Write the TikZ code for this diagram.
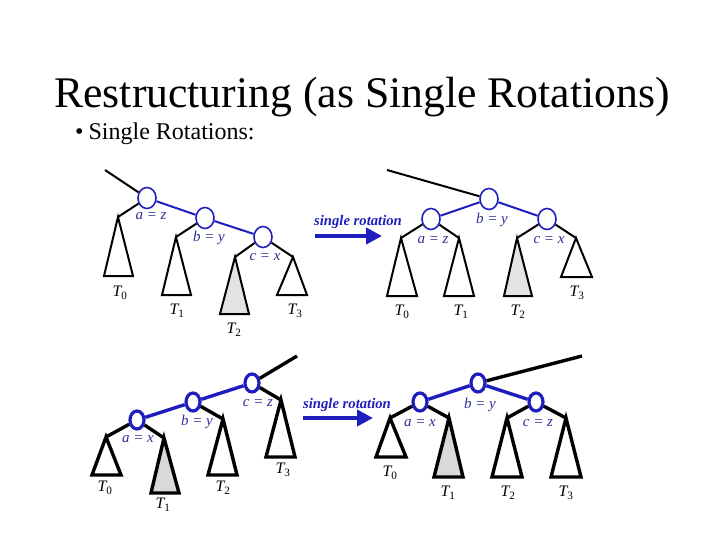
\documentclass[tikz,border=0pt]{standalone}
\usepackage{fontspec}
\setmainfont{Liberation Serif}
\usepackage{tikz}
\usepackage{xcolor}
\usetikzlibrary{shapes.geometric, arrows.meta, positioning}
\definecolor{keyblue}{RGB}{30,30,190}
\definecolor{labblue}{RGB}{45,45,150}
\tikzstyle{topkey}  = [ellipse, draw=keyblue, fill=white, line width=1.6pt, minimum width=18pt, minimum height=21pt, inner sep=0pt]
\tikzstyle{botkey}  = [ellipse, draw=keyblue, fill=white, line width=3.2pt, minimum width=14pt, minimum height=18pt, inner sep=0pt]
\tikzstyle{topedge} = [line width=2pt]
\tikzstyle{botedge} = [line width=3.4pt]
\tikzstyle{toptree} = [draw, line width=2pt, fill=white]
\tikzstyle{bottree} = [draw, line width=3.4pt, fill=white]
\tikzstyle{keylabel}= [text=labblue, font=\fontsize{15}{15}\selectfont\itshape, inner sep=0pt]
\tikzstyle{treelabel}= [font=\fontsize{16}{16}\selectfont\itshape, inner sep=0pt]
\tikzstyle{rotlabel}= [text=keyblue, font=\fontsize{14.7}{15}\selectfont\bfseries\itshape, inner sep=0pt]
\tikzstyle{rotarrow}= [draw=keyblue, line width=4.5pt, -{Triangle[length=16pt,width=16pt]}]

\begin{document}
\begin{tikzpicture}[x=1pt, y=-1pt]
\useasboundingbox (0,0) rectangle (720,540);

\node (title) [anchor=base, font=\fontsize{43.7}{44}\selectfont] at (362,108) {Restructuring (as Single Rotations)};
\node (bullet) [anchor=base west, font=\fontsize{24}{24}\selectfont, inner sep=0pt] at (75,140) {\textbullet\hspace{5pt}Single Rotations:};

% top left: before rotation
\coordinate (p1) at (105,170);
\coordinate (t10) at (118,217);
\coordinate (t11) at (176,237);
\coordinate (t12) at (235,257);
\coordinate (t13) at (293,257);
\draw [toptree] (t10) -- ++(-14,59) -- ++(29,0) -- cycle;
\draw [toptree] (t11) -- ++(-14,58) -- ++(29,0) -- cycle;
\draw [toptree, fill=gray!22] (t12) -- ++(-15,57) -- ++(29,0) -- cycle;
\draw [toptree] (t13) -- ++(-16,38) -- ++(30,0) -- cycle;
\node (a1) [topkey] at (147,198) {};
\node (b1) [topkey] at (205,218) {};
\node (c1) [topkey] at (263,237) {};
\draw [topedge] (p1) -- (a1);
\draw [topedge, draw=keyblue] (a1) -- (b1);
\draw [topedge, draw=keyblue] (b1) -- (c1);
\draw [topedge] (a1) -- (t10);
\draw [topedge] (b1) -- (t11);
\draw [topedge] (c1) -- (t12);
\draw [topedge] (c1) -- (t13);
\node (la1) [keylabel] at (151,216) {a = z};
\node (lb1) [keylabel] at (209,238) {b = y};
\node (lc1) [keylabel] at (265,257) {c = x};
\node (l10) [treelabel] at (120,293) {T\textsubscript{\upshape 0}};
\node (l11) [treelabel] at (177,311) {T\textsubscript{\upshape 1}};
\node (l12) [treelabel] at (234,330) {T\textsubscript{\upshape 2}};
\node (l13) [treelabel] at (295,311) {T\textsubscript{\upshape 3}};

\node (rot1) [rotlabel] at (358,222) {single rotation};
\coordinate (r1s) at (315,236);
\coordinate (r1e) at (382,236);
\draw [rotarrow] (r1s) -- (r1e);

% top right: after rotation
\coordinate (p2) at (387,170);
\coordinate (t20) at (401,238);
\coordinate (t21) at (459,238);
\coordinate (t22) at (517,238);
\coordinate (t23) at (576,238);
\draw [toptree] (t20) -- ++(-14,58) -- ++(30,0) -- cycle;
\draw [toptree] (t21) -- ++(-15,58) -- ++(30,0) -- cycle;
\draw [toptree, fill=gray!22] (t22) -- ++(-13,58) -- ++(28,0) -- cycle;
\draw [toptree] (t23) -- ++(-15,39) -- ++(31,0) -- cycle;
\node (b2) [topkey] at (489,199) {};
\node (a2) [topkey] at (431,219) {};
\node (c2) [topkey] at (547,219) {};
\draw [topedge] (p2) -- (b2);
\draw [topedge, draw=keyblue] (b2) -- (a2);
\draw [topedge, draw=keyblue] (b2) -- (c2);
\draw [topedge] (a2) -- (t20);
\draw [topedge] (a2) -- (t21);
\draw [topedge] (c2) -- (t22);
\draw [topedge] (c2) -- (t23);
\node (lb2) [keylabel] at (492,220) {b = y};
\node (la2) [keylabel] at (433,240) {a = z};
\node (lc2) [keylabel] at (549,240) {c = x};
\node (l20) [treelabel] at (402,312) {T\textsubscript{\upshape 0}};
\node (l21) [treelabel] at (461,312) {T\textsubscript{\upshape 1}};
\node (l22) [treelabel] at (518,312) {T\textsubscript{\upshape 2}};
\node (l23) [treelabel] at (577,293) {T\textsubscript{\upshape 3}};

% bottom left: before rotation
\coordinate (p3) at (297,356);
\coordinate (t30) at (106,437);
\coordinate (t31) at (164,438);
\coordinate (t32) at (223,419);
\coordinate (t33) at (281,400);
\draw [bottree] (t30) -- ++(-14,38) -- ++(29,0) -- cycle;
\draw [bottree, fill=gray!30] (t31) -- ++(-13,55) -- ++(28,0) -- cycle;
\draw [bottree] (t32) -- ++(-15,56) -- ++(29,0) -- cycle;
\draw [bottree] (t33) -- ++(-15,57) -- ++(29,0) -- cycle;
\node (c3) [botkey] at (252,383) {};
\node (b3) [botkey] at (193,402) {};
\node (a3) [botkey] at (137,420) {};
\draw [botedge] (p3) -- (c3);
\draw [botedge, draw=keyblue] (c3) -- (b3);
\draw [botedge, draw=keyblue] (b3) -- (a3);
\draw [botedge] (a3) -- (t30);
\draw [botedge] (a3) -- (t31);
\draw [botedge] (b3) -- (t32);
\draw [botedge] (c3) -- (t33);
\node (lc3) [keylabel] at (258,403) {c = z};
\node (lb3) [keylabel] at (197,422) {b = y};
\node (la3) [keylabel] at (138,439) {a = x};
\node (l30) [treelabel] at (105,488) {T\textsubscript{\upshape 0}};
\node (l31) [treelabel] at (163,505) {T\textsubscript{\upshape 1}};
\node (l32) [treelabel] at (223,488) {T\textsubscript{\upshape 2}};
\node (l33) [treelabel] at (283,470) {T\textsubscript{\upshape 3}};

\node (rot2) [rotlabel] at (347,405) {single rotation};
\coordinate (r2s) at (303,418);
\coordinate (r2e) at (373,418);
\draw [rotarrow] (r2s) -- (r2e);

% bottom right: after rotation
\coordinate (p4) at (582,356);
\coordinate (t40) at (390,418);
\coordinate (t41) at (449,418);
\coordinate (t42) at (507,418);
\coordinate (t43) at (566,418);
\draw [bottree] (t40) -- ++(-14,39) -- ++(30,0) -- cycle;
\draw [bottree, fill=gray!30] (t41) -- ++(-15,59) -- ++(29,0) -- cycle;
\draw [bottree] (t42) -- ++(-15,59) -- ++(30,0) -- cycle;
\draw [bottree] (t43) -- ++(-15,59) -- ++(30,0) -- cycle;
\node (b4) [botkey] at (478,383) {};
\node (a4) [botkey] at (420,402) {};
\node (c4) [botkey] at (536,402) {};
\draw [botedge] (p4) -- (b4);
\draw [botedge, draw=keyblue] (b4) -- (a4);
\draw [botedge, draw=keyblue] (b4) -- (c4);
\draw [botedge] (a4) -- (t40);
\draw [botedge] (a4) -- (t41);
\draw [botedge] (c4) -- (t42);
\draw [botedge] (c4) -- (t43);
\node (lb4) [keylabel] at (480,405) {b = y};
\node (la4) [keylabel] at (420,423) {a = x};
\node (lc4) [keylabel] at (538,423) {c = z};
\node (l40) [treelabel] at (390,473) {T\textsubscript{\upshape 0}};
\node (l41) [treelabel] at (448,493) {T\textsubscript{\upshape 1}};
\node (l42) [treelabel] at (508,493) {T\textsubscript{\upshape 2}};
\node (l43) [treelabel] at (566,493) {T\textsubscript{\upshape 3}};

\end{tikzpicture}
\end{document}
